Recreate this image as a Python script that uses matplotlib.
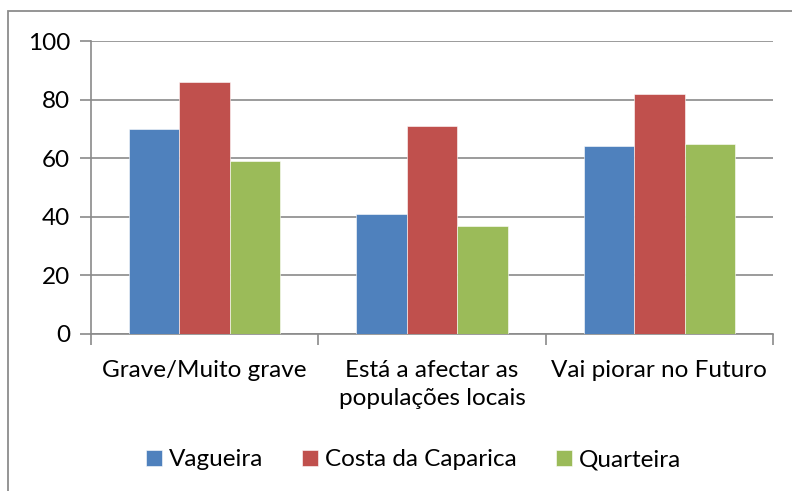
import numpy as np
import matplotlib.pyplot as plt
from matplotlib.patches import Rectangle

plt.rcParams['font.family'] = ['Lato', 'DejaVu Sans']

#data
categories = ['Grave/Muito grave', 'Está a afectar as\npopulações locais', 'Vai piorar no Futuro']
series = ['Vagueira', 'Costa da Caparica', 'Quarteira']
vagueira = [70, 41, 64]
caparica = [86, 71, 82]
quarteira = [59, 37, 65]
colors = ['#4F81BD', '#C0504D', '#9BBB59']

fs = 17.5
W, H = 792, 491
fig = plt.figure(figsize=(W/100, H/100), dpi=100)
ax = fig.add_axes([91/W, 1-334/H, (773-91)/W, (334-41)/H])

# outer chart border
fig.patches.append(Rectangle((8/W, -0.1), 1.2, 1.1-11/H, transform=fig.transFigure,
                             fill=False, edgecolor='#8c8c8c', lw=1.3, zorder=0))

x = np.arange(len(categories))
w = 0.222
for i, (vals, c, name) in enumerate(zip([vagueira, caparica, quarteira], colors, series)):
    ax.bar(x + (i-1)*w, vals, w, color=c, label=name, zorder=3,
           edgecolor='white', linewidth=0.4)

ax.set_xlim(-0.5, 2.5)
ax.set_ylim(0, 100)
ax.set_yticks(np.arange(0, 101, 20))
ax.yaxis.grid(True, color='#8a8a8a', lw=1.2, zorder=0)
ax.set_xticks([-0.5, 0.5, 1.5, 2.5])
ax.set_xticklabels([])
ax.set_xticks(x, minor=True)
ax.set_xticklabels(categories, minor=True, fontsize=fs, linespacing=1.4)
ax.tick_params(axis='x', which='minor', length=0, pad=19)
ax.tick_params(axis='x', which='major', length=8, color='#8a8a8a', width=1.2)
ax.tick_params(axis='y', length=8, color='#8a8a8a', width=1.2, labelsize=fs, pad=7)
for s in ['top', 'right']:
    ax.spines[s].set_visible(False)
for s in ['left', 'bottom']:
    ax.spines[s].set_color('#8a8a8a')
    ax.spines[s].set_linewidth(1.2)

leg = fig.legend(loc='center', bbox_to_anchor=(0.522, 1-460/H), ncol=3, frameon=False,
                 fontsize=fs, handlelength=0.65, handleheight=0.65, handletextpad=0.3,
                 columnspacing=1.6)

fig.savefig('out.png', dpi=100)
